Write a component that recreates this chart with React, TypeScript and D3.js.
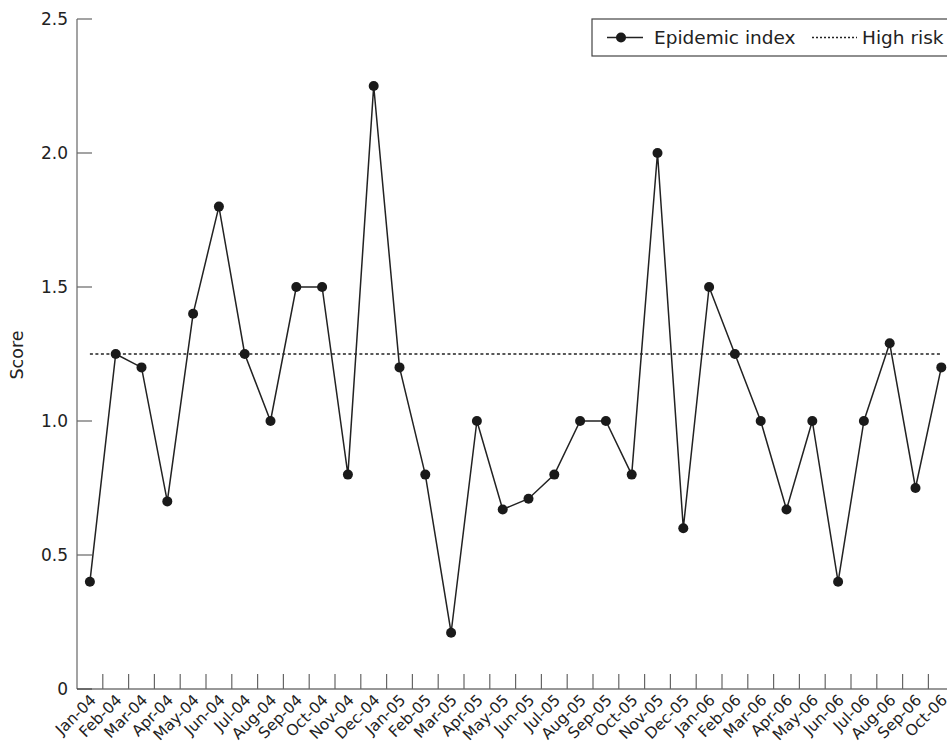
import React from "react";
import * as d3 from "d3";

const months = ["Jan-04","Feb-04","Mar-04","Apr-04","May-04","Jun-04","Jul-04","Aug-04","Sep-04","Oct-04","Nov-04","Dec-04","Jan-05","Feb-05","Mar-05","Apr-05","May-05","Jun-05","Jul-05","Aug-05","Sep-05","Oct-05","Nov-05","Dec-05","Jan-06","Feb-06","Mar-06","Apr-06","May-06","Jun-06","Jul-06","Aug-06","Sep-06","Oct-06"];
const epidemicIndex = [0.4,1.25,1.2,0.7,1.4,1.8,1.25,1.0,1.5,1.5,0.8,2.25,1.2,0.8,0.21,1.0,0.67,0.71,0.8,1.0,1.0,0.8,2.0,0.6,1.5,1.25,1.0,0.67,1.0,0.4,1.0,1.29,0.75,1.2];
const highRisk = 1.25;
const yTicks = [0, 0.5, 1.0, 1.5, 2.0, 2.5];

const W = 947, H = 751;
const left = 77, top = 19, bottom = 689;
const bandW = 25.8;
const FONT = "'DejaVu Sans', sans-serif";

export default function App() {
  const x = d3.scaleBand<string>().domain(months).range([left, left + bandW * months.length]).paddingInner(0).paddingOuter(0);
  const cx = (m: string) => (x(m) as number) + x.bandwidth() / 2;
  const y = d3.scaleLinear().domain([0, 2.5]).range([bottom, top]);
  const line = d3.line<number>().x((_, i) => cx(months[i])).y((d) => y(d));
  const fmt = (v: number) => (v === 0 ? "0" : d3.format(".1f")(v));
  const axisColor = "#666";
  return (
    <svg width={W} height={H} style={{ position: "absolute", left: 0, top: 0, background: "#fff" }} fontFamily={FONT}>
      <rect x={0} y={0} width={W} height={H} fill="#fff" />
      {/* y axis */}
      <line x1={left} x2={left} y1={top} y2={bottom} stroke={axisColor} strokeWidth={1.2} />
      {yTicks.map((t) => (
        <g key={t}>
          <line x1={left} x2={left + 15} y1={y(t)} y2={y(t)} stroke={axisColor} strokeWidth={1.2} />
          <text x={left - 9} y={y(t)} dy="0.36em" textAnchor="end" fontSize={17} fill="#222">{fmt(t)}</text>
        </g>
      ))}
      <text transform={`translate(23,${355}) rotate(-90)`} textAnchor="middle" fontSize={17.5} fill="#222">Score</text>
      {/* x axis */}
      <line x1={left} x2={left + bandW * months.length} y1={bottom} y2={bottom} stroke="#333" strokeWidth={1.2} />
      {months.map((m, i) => (
        <g key={m}>
          {i > 0 && <line x1={x(m) as number} x2={x(m) as number} y1={bottom} y2={bottom - 15} stroke={axisColor} strokeWidth={1.2} />}
          <text transform={`translate(${cx(m) + 7},${bottom + 12}) rotate(-45)`} textAnchor="end" fontSize={15.5} fill="#222">{m}</text>
        </g>
      ))}
      {/* high risk */}
      <line x1={cx(months[0])} x2={cx(months[months.length - 1])} y1={y(highRisk)} y2={y(highRisk)} stroke="#222" strokeWidth={1.5} strokeDasharray="3,2.5" />
      {/* series */}
      <path d={line(epidemicIndex) as string} fill="none" stroke="#222" strokeWidth={1.5} />
      {epidemicIndex.map((v, i) => (
        <circle key={i} cx={cx(months[i])} cy={y(v)} r={5} fill="#1a1a1a" />
      ))}
      {/* legend */}
      <rect x={592} y={19} width={400} height={37} fill="#fff" stroke="#444" strokeWidth={1.2} />
      <line x1={607} x2={643} y1={37.5} y2={37.5} stroke="#222" strokeWidth={1.5} />
      <circle cx={621} cy={37.5} r={5} fill="#1a1a1a" />
      <text x={654} y={37.5} dy="0.36em" fontSize={18.5} fill="#222">Epidemic index</text>
      <line x1={812} x2={857} y1={37.5} y2={37.5} stroke="#222" strokeWidth={1.5} strokeDasharray="2,2" />
      <text x={862} y={37.5} dy="0.36em" fontSize={18.5} fill="#222">High risk</text>
    </svg>
  );
}
